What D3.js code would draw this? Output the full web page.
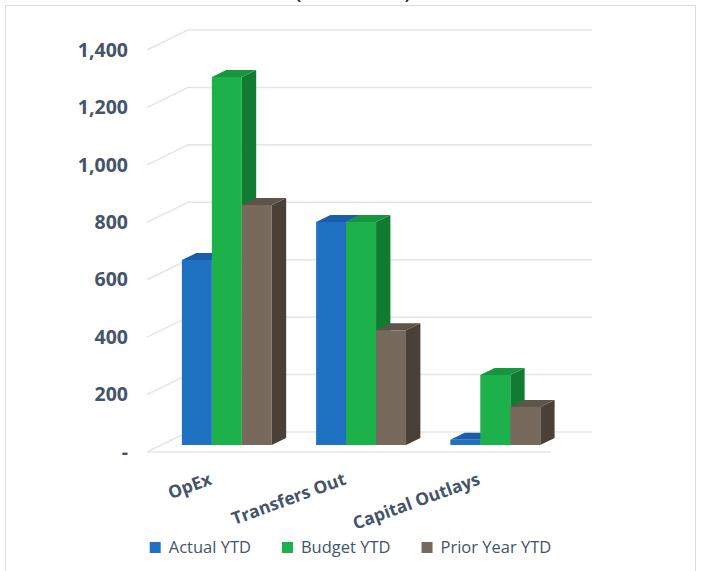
<!DOCTYPE html>
<html>
<head>
<meta charset="utf-8">
<script src="https://cdn.jsdelivr.net/npm/d3@7"></script>
<style>
  html, body { margin: 0; padding: 0; background: #fff; }
  svg { display: block; }
</style>
</head>
<body>
<svg id="chart" width="702" height="571"></svg>
<script>
// Expense categories and the three comparison series (in thousands)
const categories = ["OpEx", "Transfers Out", "Capital Outlays"];
const seriesNames = ["Actual YTD", "Budget YTD", "Prior Year YTD"];
const actualYTD = [644, 777, 18];
const budgetYTD = [1282, 777, 244];
const priorYearYTD = [836, 400, 132];
const yTicks = [0, 200, 400, 600, 800, 1000, 1200, 1400];
const yTickLabels = ["-", "200", "400", "600", "800", "1,000", "1,200", "1,400"];
const titleText = "(in thousands)";

const seriesValues = [actualYTD, budgetYTD, priorYearYTD];
const palette = [
  { front: "#1f72c2", top: "#195ea8", side: "#154f8f" },
  { front: "#1db14b", top: "#16963e", side: "#117c31" },
  { front: "#776a5c", top: "#5f5449", side: "#4a4038" }
];

const svg = d3.select("#chart");
const textColor = "#44546a";
const font = "'Open Sans', 'Liberation Sans', sans-serif";

// Chart frame
svg.append("rect")
  .attr("x", 5.5).attr("y", 5.5)
  .attr("width", 690).attr("height", 600)
  .attr("fill", "none").attr("stroke", "#d9dde3").attr("stroke-width", 1);

// Title (sits above the frame's top edge, mostly off the page)
svg.append("text")
  .attr("x", 353).attr("y", 0)
  .attr("text-anchor", "middle")
  .attr("font-family", font).attr("font-weight", 700).attr("font-size", 16)
  .attr("fill", "#222")
  .text(titleText);

// 3-D plot box: front plane x-range, depth offset for the back wall
const frontLeft = 147, frontRight = 551;
const depthDX = 41, depthDY = -20;

const y = d3.scaleLinear().domain([0, 1400]).range([452, 50]);
const x = d3.scaleBand()
  .domain(categories)
  .range([frontLeft, frontRight])
  .paddingInner(0.33)
  .paddingOuter(0.17)
  .align(0.45);
const xSeries = d3.scaleBand().domain(seriesNames).range([0, x.bandwidth()]).padding(0);

// project a front-plane x, a value, and a depth fraction (0 front .. 1 back)
const P = (px, v, d) => [px + depthDX * d, y(v) + depthDY * d];

// Gridlines: left wall diagonal + back wall horizontal
const grid = svg.append("g").attr("fill", "none")
  .attr("stroke", "#e6e6e6").attr("stroke-width", 1.6);
yTicks.forEach(v => {
  grid.append("polyline")
    .attr("points", [P(frontLeft, v, 0), P(frontLeft, v, 1), P(frontRight, v, 1)].map(p => p.join(",")).join(" "));
});
// floor front edge
grid.append("line")
  .attr("x1", P(frontLeft, 0, 0)[0]).attr("y1", P(frontLeft, 0, 0)[1])
  .attr("x2", P(frontRight, 0, 0)[0]).attr("y2", P(frontRight, 0, 0)[1]);

// Y axis labels
const yAxis = d3.axisLeft(y)
  .tickValues(yTicks)
  .tickFormat((d, i) => yTickLabels[i])
  .tickSize(0).tickPadding(0);
const ya = svg.append("g").attr("transform", "translate(128,0)").call(yAxis);
ya.select(".domain").remove();
ya.selectAll("text")
  .attr("font-family", font).attr("font-weight", 700).attr("font-size", 19.5)
  .attr("fill", textColor);

// Bars (front depth .35 → back depth .70)
const d0 = 0.35, d1 = 0.70;
const pts = arr => arr.map(p => p.join(",")).join(" ");
const bars = svg.append("g");
categories.forEach((cat, ci) => {
  seriesNames.forEach((s, si) => {
    const v = seriesValues[si][ci];
    const x0 = x(cat) + xSeries(s);
    const x1 = x0 + xSeries.bandwidth();
    const c = palette[si];
    const g = bars.append("g");
    g.append("polygon").attr("fill", c.side)
      .attr("points", pts([P(x1, 0, d0), P(x1, 0, d1), P(x1, v, d1), P(x1, v, d0)]));
    g.append("polygon").attr("fill", c.top)
      .attr("points", pts([P(x0, v, d0), P(x1, v, d0), P(x1, v, d1), P(x0, v, d1)]));
    g.append("polygon").attr("fill", c.front)
      .attr("points", pts([P(x0, 0, d0), P(x1, 0, d0), P(x1, v, d0), P(x0, v, d0)]));
  });
});

// Category labels, rotated
svg.append("g").selectAll("text")
  .data(categories)
  .join("text")
  .attr("transform", d => `translate(${x(d) + depthDX * d0 + x.bandwidth() / 2 - 14},484) rotate(-20)`)
  .attr("text-anchor", "end")
  .attr("font-family", font).attr("font-weight", 700).attr("font-size", 17.5)
  .attr("fill", textColor)
  .text(d => d);

// Legend
const legend = svg.append("g");
const items = seriesNames.map((name, i) => {
  const g = legend.append("g");
  g.append("rect").attr("width", 11).attr("height", 11).attr("y", -11)
    .attr("fill", palette[i].front);
  const t = g.append("text").attr("x", 19).attr("y", 0)
    .attr("font-family", font).attr("font-size", 16.5).attr("fill", textColor)
    .text(name);
  return { g, w: 19 + t.node().getComputedTextLength() };
});
const gap = 31;
const total = d3.sum(items, d => d.w) + gap * (items.length - 1);
let lx = 350.5 - total / 2;
items.forEach(it => {
  it.g.attr("transform", `translate(${lx},553)`);
  lx += it.w + gap;
});
</script>
</body>
</html>
